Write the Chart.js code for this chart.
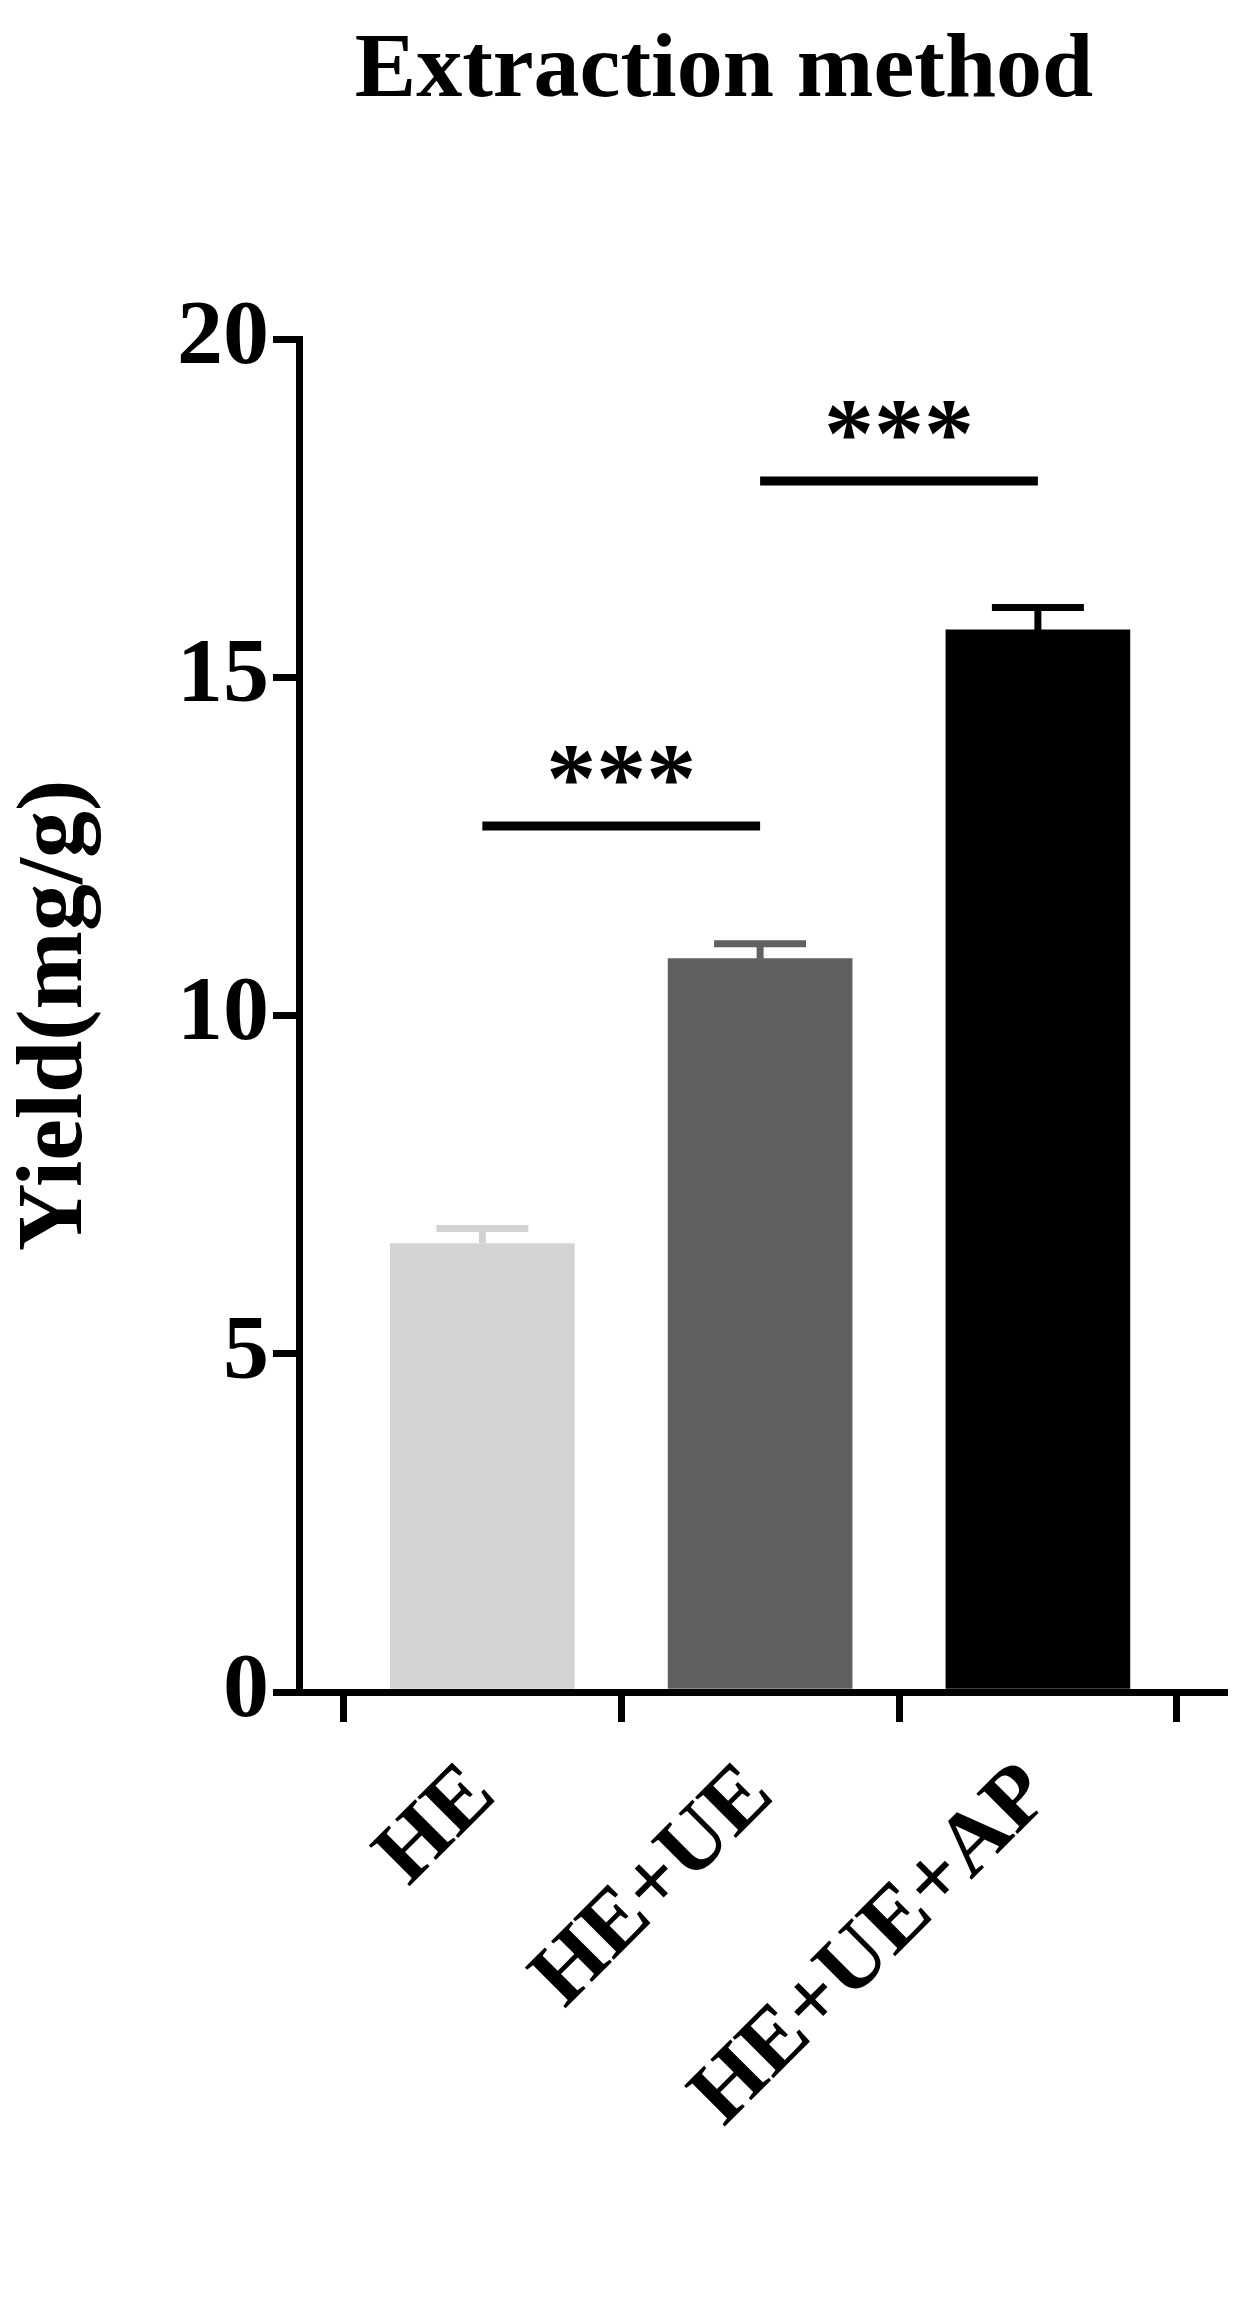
<!DOCTYPE html>
<html>
<head>
<meta charset="utf-8">
<script src="https://cdn.jsdelivr.net/npm/chart.js@4"></script>
<style>
  body { margin: 0; background: #fff; }
  #wrap { width: 1258px; height: 2321px; }
</style>
</head>
<body>
<div id="wrap"><canvas id="c"></canvas></div>
<script>
const categories = ["HE", "HE+UE", "HE+UE+AP"];
const yields = [6.63, 10.84, 15.70];
const errors = [0.22, 0.22, 0.33];
const barColors = ["#d3d3d3", "#606060", "#000000"];
const yTicks = [0, 5, 10, 15, 20];
// significance brackets: from category, to category, height, label
const sigs = [
  { from: 0, to: 1, y: 12.8, label: "***" },
  { from: 1, to: 2, y: 17.9, label: "***" }
];

const FONT = "'Liberation Serif', 'Times New Roman', serif";

const extras = {
  id: "extras",
  afterDatasetsDraw(chart) {
    const { ctx, scales: { x, y } } = chart;
    const meta = chart.getDatasetMeta(0);
    ctx.save();
    // error bars (upper only)
    meta.data.forEach((bar, i) => {
      const top = y.getPixelForValue(yields[i] + errors[i]);
      ctx.strokeStyle = barColors[i];
      ctx.lineWidth = 7;
      ctx.beginPath();
      ctx.moveTo(bar.x, bar.y);
      ctx.lineTo(bar.x, top);
      ctx.moveTo(bar.x - 46, top);
      ctx.lineTo(bar.x + 46, top);
      ctx.stroke();
    });
    // significance lines
    ctx.strokeStyle = "#000";
    ctx.fillStyle = "#000";
    ctx.lineWidth = 9;
    ctx.font = "bold 100px " + FONT;
    ctx.textAlign = "center";
    ctx.textBaseline = "alphabetic";
    sigs.forEach(s => {
      const x1 = x.getPixelForValue(s.from), x2 = x.getPixelForValue(s.to);
      const py = y.getPixelForValue(s.y);
      ctx.beginPath();
      ctx.moveTo(x1, py);
      ctx.lineTo(x2, py);
      ctx.stroke();
      ctx.fillText(s.label, (x1 + x2) / 2, py - 15);
    });
    // title
    ctx.font = "bold 92px " + FONT;
    ctx.textBaseline = "middle";
    ctx.fillText("Extraction method", 724, 72);
    ctx.restore();
  }
};

new Chart(document.getElementById("c"), {
  type: "bar",
  data: {
    datasets: [{
      data: yields.map((v, i) => ({ x: i, y: v })),
      backgroundColor: barColors,
      barThickness: 184
    }]
  },
  options: {
    responsive: true,
    maintainAspectRatio: false,
    animation: false,
    layout: { padding: { top: 339, right: 34, left: 0, bottom: 0 } },
    plugins: { legend: { display: false }, tooltip: { enabled: false } },
    scales: {
      x: {
        type: "linear",
        min: -0.66, max: 2.67,
        offset: false,
        afterBuildTicks(s) { s.ticks = categories.map((c, i) => ({ value: i })); },
        grid: { drawOnChartArea: false, drawTicks: true, tickLength: 30, color: "#000", lineWidth: 7 },
        border: { color: "#000", width: 7 },
        ticks: {
          color: "#000", font: { family: FONT, size: 88, weight: "bold" },
          minRotation: 45, maxRotation: 45, padding: 22, autoSkip: false,
          callback: v => categories[v]
        },
        afterFit(s) { s.height = 2321 - 1692; }
      },
      y: {
        min: 0, max: 20,
        afterBuildTicks(s) { s.ticks = yTicks.map(v => ({ value: v })); },
        grid: { drawOnChartArea: false, drawTicks: true, tickLength: 26, color: "#000", lineWidth: 7 },
        border: { color: "#000", width: 7 },
        ticks: { color: "#000", font: { family: FONT, size: 92, weight: "bold" }, padding: 4 },
        title: { display: true, text: "Yield(mg/g)", color: "#000", font: { family: FONT, size: 94, weight: "bold" }, padding: 0 },
        afterFit(s) { s.width = 299; }
      }
    }
  },
  plugins: [extras]
});
</script>
</body>
</html>
